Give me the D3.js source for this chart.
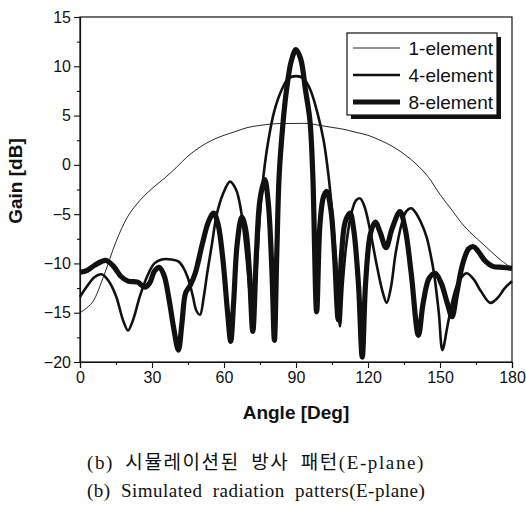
<!DOCTYPE html>
<html>
<head>
<meta charset="utf-8">
<script src="https://cdn.jsdelivr.net/npm/d3@7"></script>
<style>
  body { margin: 0; background: #fff; }
  svg { display: block; }
  .tick text { font-family: "Liberation Sans", Arial, sans-serif; font-size: 16px; fill: #111; }
  .axis-title { font-family: "Liberation Sans", Arial, sans-serif; font-weight: bold; font-size: 19px; fill: #111; }
  .legend-text { font-family: "Liberation Sans", Arial, sans-serif; font-size: 19px; fill: #111; }
  .caption { font-family: "Liberation Serif", "Noto Sans CJK KR", serif; font-size: 19px; fill: #111; word-spacing: 5px; }
  .caption.ko { letter-spacing: 1.6px; }
  .caption.en { letter-spacing: 0.5px; }
</style>
</head>
<body>
<div id="chart"></div>
<script>
// angle [deg] / gain [dB]
var oneElement = [
  [0,-15],[5,-14],[10,-11.2],[15,-7.8],[20,-5.2],[25,-3.6],[30,-2.4],[35,-1.4],
  [40,-0.3],[45,0.9],[50,1.8],[55,2.5],[60,3.0],[65,3.4],[70,3.8],[75,4.0],
  [80,4.15],[85,4.2],[90,4.2],[95,4.2],[100,4.0],[105,3.8],[110,3.6],[115,3.3],
  [120,3.0],[125,2.5],[130,1.9],[135,1.1],[140,0.1],[145,-1.2],[150,-3.0],
  [155,-4.6],[160,-6.2],[165,-7.4],[170,-8.5],[175,-9.6],[180,-10.5]
];

var fourElement = [
  [0,-13.4],[3,-12.3],[6,-11.4],[9,-11.1],[12,-11.8],[15,-13.3],[18,-15.8],[20,-16.8],
  [22,-15.8],[25,-13.3],[28,-11.3],[31,-10],[34,-9.6],[38,-9.6],[41,-9.8],[43,-10.4],
  [45,-11.5],[47,-13.3],[48.5,-14.8],[50,-15.2],[51.5,-13.5],[53,-11],[55,-8],[57,-5],
  [59.5,-3],[62.5,-1.7],[65,-2.5],[67,-4.5],[69,-8.5],[70.5,-12.5],[72,-16.9],[73.5,-11],
  [75,-5],[76.5,-1],[78.5,2.5],[81,5.5],[84,7.6],[87,8.8],[90,9.0],[93,8.8],[96,7.6],
  [99,5.2],[101.5,2.5],[103.5,-1],[105.5,-6],[107,-11],[108.3,-16.4],[109.5,-12],
  [111,-8],[113,-5],[115,-3.6],[116.7,-3.4],[118.5,-4.2],[121,-6.8],[123.5,-10],
  [126,-12.8],[127.8,-14],[129.5,-12.5],[131.5,-9],[134,-6],[136,-4.7],[138,-4.4],
  [140,-4.9],[142,-5.8],[144.4,-7.3],[146,-9],[147.5,-11],[149.5,-15],[151,-18.8],
  [153,-16.5],[155,-14],[157.5,-12],[161,-11],[164,-11.6],[167,-12.8],[171,-14],
  [174,-13.5],[177,-12.5],[180,-11.8]
];

var eightElement = [
  [0,-10.9],[3,-10.7],[6,-10.2],[9,-9.8],[11,-9.7],[14,-10.3],[17,-11.3],[20,-11.8],
  [24,-11.9],[27,-12.4],[29,-12.0],[31,-10.8],[33,-10.4],[35,-11.2],[37,-13.5],[39,-16.5],
  [41,-18.8],[42.5,-16],[44,-13],[46,-12.2],[48,-11],[51,-8],[53.5,-5.8],[55.7,-4.9],
  [57.5,-6],[59.5,-9.5],[61.5,-15],[62.8,-17.9],[64,-14],[65.5,-8],[67.4,-5.3],[69,-6.5],
  [70.5,-10.5],[72,-16.9],[73.5,-9],[75,-3.5],[77,-1.5],[78.5,-4],[80,-11],[81,-17.8],
  [82,-9],[83,-1],[84.5,4],[86,7.5],[88,10.5],[90,11.7],[92,10.7],[94,7.5],[95.8,4.5],
  [97,-1],[98.6,-14.9],[100,-6],[101.5,-3.2],[102.8,-2.7],[104.5,-4.5],[106,-9],
  [107.6,-15.7],[109,-9],[110.5,-5.8],[112.5,-4.9],[114,-6.5],[116,-12],[117.6,-19.5],
  [119,-12],[121,-7],[123,-5.8],[125,-6.8],[127.5,-8.4],[130,-6.5],[133.3,-4.75],
  [135.5,-6.5],[138,-11],[141,-17.3],[143,-14],[145.5,-11.5],[148,-11],[150.5,-12],
  [153,-14],[155,-15.4],[157,-13],[159.5,-10],[162,-8.5],[164,-8.3],[166,-8.8],
  [169,-9.8],[172,-10.3],[176,-10.4],[180,-10.5]
];

var seriesNames = ['1-element', '4-element', '8-element'];
var xTicks = [0, 30, 60, 90, 120, 150, 180];
var yTicks = [-20, -15, -10, -5, 0, 5, 10, 15];
var captions = ['(b) 시뮬레이션된 방사 패턴(E-plane)', '(b) Simulated radiation patters(E-plane)'];

var margin = {top: 17, left: 80, right: 14, bottom: 145};
var W = 526, H = 507;
var width = W - margin.left - margin.right;
var height = H - margin.top - margin.bottom;

var svg = d3.select('#chart').append('svg')
  .attr('width', W).attr('height', H);
var g = svg.append('g')
  .attr('transform', 'translate(' + margin.left + ',' + margin.top + ')');

var x = d3.scaleLinear().domain([0, 180]).range([0, width]);
var y = d3.scaleLinear().domain([-20, 15]).range([height, 0]);

// frame
g.append('rect')
  .attr('width', width).attr('height', height)
  .attr('fill', 'none').attr('stroke', '#111').attr('stroke-width', 1.2);

// minor ticks
g.append('g').attr('transform', 'translate(0,' + height + ')')
  .call(d3.axisBottom(x).tickValues(d3.range(15, 180, 30)).tickSize(3).tickFormat(''))
  .call(function(s) { s.select('.domain').remove(); });
g.append('g')
  .call(d3.axisLeft(y).tickValues(d3.range(-17.5, 15, 5)).tickSize(3).tickFormat(''))
  .call(function(s) { s.select('.domain').remove(); });

// major axes
var xAxis = g.append('g').attr('transform', 'translate(0,' + height + ')')
  .call(d3.axisBottom(x).tickValues(xTicks).tickSize(6).tickPadding(4));
var yAxis = g.append('g')
  .call(d3.axisLeft(y).tickValues(yTicks).tickSize(6).tickPadding(3));
g.selectAll('.domain').attr('stroke', '#111').attr('stroke-width', 1.2);
g.selectAll('.tick line').attr('stroke', '#111').attr('stroke-width', 1.1);

// curves
var line = d3.line()
  .x(function(d) { return x(d[0]); })
  .y(function(d) { return y(d[1]); })
  .curve(d3.curveCatmullRom.alpha(0.5));

var widths = [0.9, 2.6, 5.2];
[oneElement, fourElement, eightElement].forEach(function(data, i) {
  g.append('path')
    .datum(data)
    .attr('fill', 'none')
    .attr('stroke', '#111')
    .attr('stroke-width', widths[i])
    .attr('stroke-linejoin', 'round')
    .attr('d', line);
});

// legend
var legend = svg.append('g').attr('transform', 'translate(347,33)');
legend.append('rect')
  .attr('x', 4).attr('y', 4).attr('width', 150).attr('height', 82)
  .attr('fill', '#111');
legend.append('rect')
  .attr('width', 150).attr('height', 82)
  .attr('fill', '#fff').attr('stroke', '#111').attr('stroke-width', 1.2);
seriesNames.forEach(function(name, i) {
  var ly = 15 + i * 27;
  legend.append('line')
    .attr('x1', 6).attr('x2', 53).attr('y1', ly).attr('y2', ly)
    .attr('stroke', '#111').attr('stroke-width', widths[i]);
  legend.append('text')
    .attr('class', 'legend-text')
    .attr('x', 146).attr('y', ly + 7)
    .attr('text-anchor', 'end')
    .text(name);
});

// axis titles
svg.append('text')
  .attr('class', 'axis-title')
  .attr('x', margin.left + width / 2).attr('y', 419)
  .attr('text-anchor', 'middle')
  .text('Angle [Deg]');
svg.append('text')
  .attr('class', 'axis-title')
  .attr('transform', 'translate(22,181) rotate(-90)')
  .attr('text-anchor', 'middle')
  .text('Gain [dB]');

// captions
captions.forEach(function(c, i) {
  svg.append('text')
    .attr('class', 'caption ' + (i === 0 ? 'ko' : 'en'))
    .attr('x', 87).attr('y', 469 + i * 28)
    .text(c);
});
</script>
</body>
</html>
